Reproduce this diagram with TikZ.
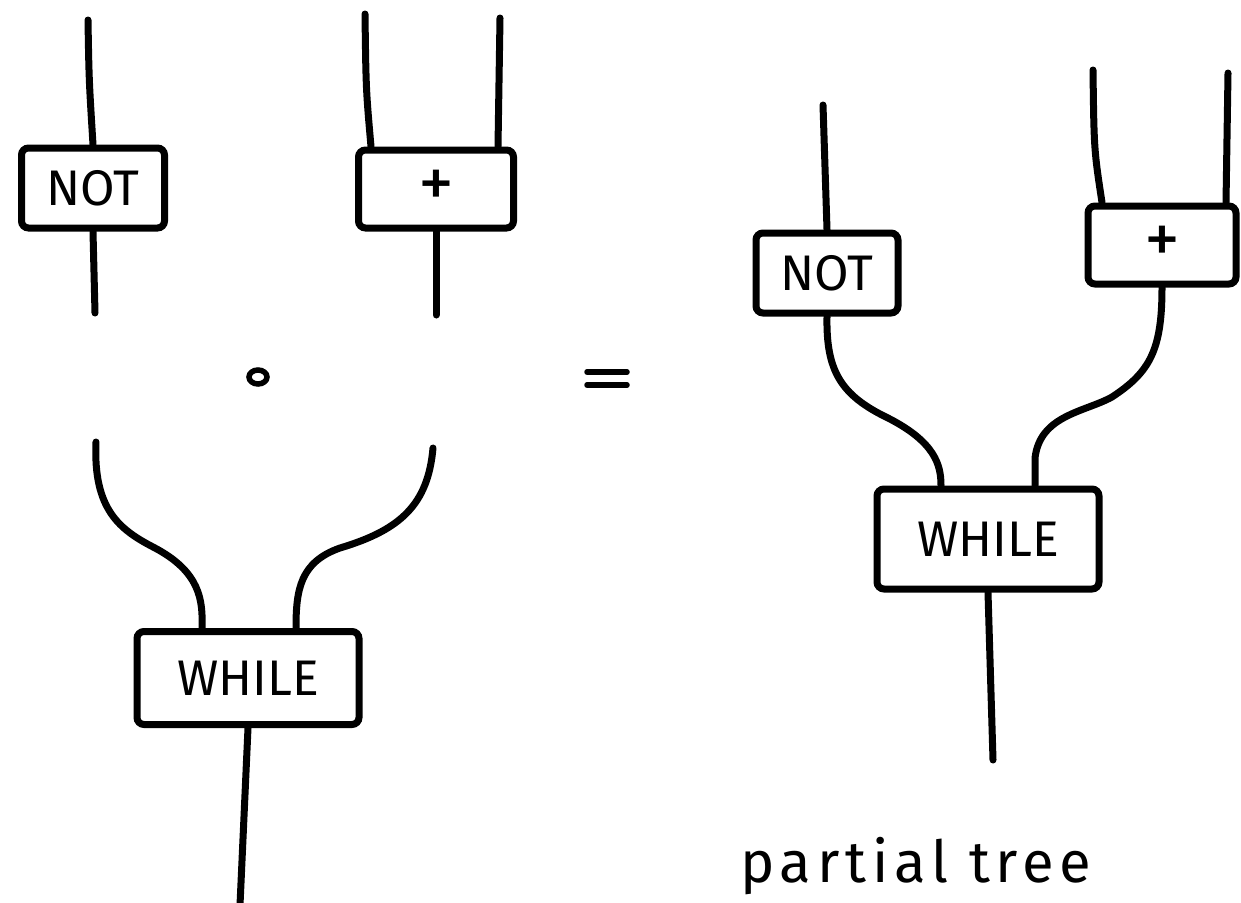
\documentclass[tikz,border=0pt]{standalone}
\usepackage{fontspec}
\setmainfont{Fira Sans}
\begin{document}
\begin{tikzpicture}[x=1pt,y=-1pt,
  wire/.style={line width=7pt, line cap=round},
  gate/.style={draw, line width=7pt, rounded corners=7pt, fill=white, inner sep=0pt,
               font=\fontsize{50}{58}\selectfont},
  plusgate/.style={gate, font=\fontsize{72}{80}\selectfont},
  sym/.style={line width=5.5pt, line cap=round}]
\useasboundingbox (0,0) rectangle (1241,902);
\clip (0,0) rectangle (1241,902);

% ---------- left: NOT and + ----------
\node[gate, minimum width=143pt, minimum height=80pt] (not1) at (93,188) {NOT};
\node[plusgate, minimum width=155pt, minimum height=78pt] (plus1) at (436,189) {+};
\coordinate (n1in) at (88,20);
\coordinate (n1out) at (95,313);
\coordinate (p1inA) at (365,14);
\coordinate (p1inB) at (500,18);
\coordinate (p1out) at (436,315);
\draw[wire] (n1in) .. controls (89,80) .. (not1.north);
\draw[wire] (not1.south) -- (n1out);
\draw[wire] (p1inA) .. controls (366,90) .. ([xshift=-65pt]plus1.north);
\draw[wire] (p1inB) -- ([xshift=62pt]plus1.north);
\draw[wire] (plus1.south) -- (p1out);

% composition and equals
\draw[sym] (258,377) ellipse (9pt and 7pt);
\coordinate (eqL) at (587,372);
\coordinate (eqR) at (627,372);
\draw[sym] (eqL) -- (eqR);
\draw[sym] ([yshift=-13pt]eqL) -- ([yshift=-13pt]eqR);

% ---------- left: WHILE ----------
\node[gate, minimum width=222pt, minimum height=93pt] (while1) at (248,678) {WHILE};
\coordinate (w1inA) at (96,442);
\coordinate (w1inB) at (433,448);
\coordinate (w1out) at (240,905);
\draw[wire] (w1inA) .. controls (93,510) and (120,530) .. (155,548)
  .. controls (200,572) and (203,600) .. ([xshift=-46pt]while1.north);
\draw[wire] (w1inB) .. controls (428,505) and (400,530) .. (340,548)
  .. controls (300,562) and (296,590) .. ([xshift=48pt]while1.north);
\draw[wire] (while1.south) -- (w1out);

% ---------- right: partial tree ----------
\node[gate, minimum width=142pt, minimum height=80pt] (not2) at (827,273) {NOT};
\node[plusgate, minimum width=148pt, minimum height=78pt] (plus2) at (1162,245) {+};
\node[gate, minimum width=222pt, minimum height=100pt] (while2) at (988,539) {WHILE};
\coordinate (n2in) at (823,105);
\coordinate (p2inA) at (1093,70);
\coordinate (p2inB) at (1228,73);
\coordinate (w2out) at (993,760);
\draw[wire] (n2in) -- (not2.north);
\draw[wire] (p2inA) .. controls (1094,150) .. ([xshift=-60pt]plus2.north);
\draw[wire] (p2inB) -- ([xshift=64pt]plus2.north);
\draw[wire] (not2.south) .. controls (826,370) and (840,395) .. (888,418)
  .. controls (935,442) and (941,465) .. ([xshift=-47pt]while2.north);
\draw[wire] (plus2.south) .. controls (1162,350) and (1150,372) .. (1112,397)
  .. controls (1085,412) and (1040,415) .. (1035,458) -- ([xshift=47pt]while2.north);
\draw[wire] (while2.south) -- (w2out);

\node[anchor=base west, font=\fontsize{58}{66}\selectfont\addfontfeatures{LetterSpace=10}, inner sep=0pt] (lbl) at (740,882) {partial tree};
\end{tikzpicture}
\end{document}
